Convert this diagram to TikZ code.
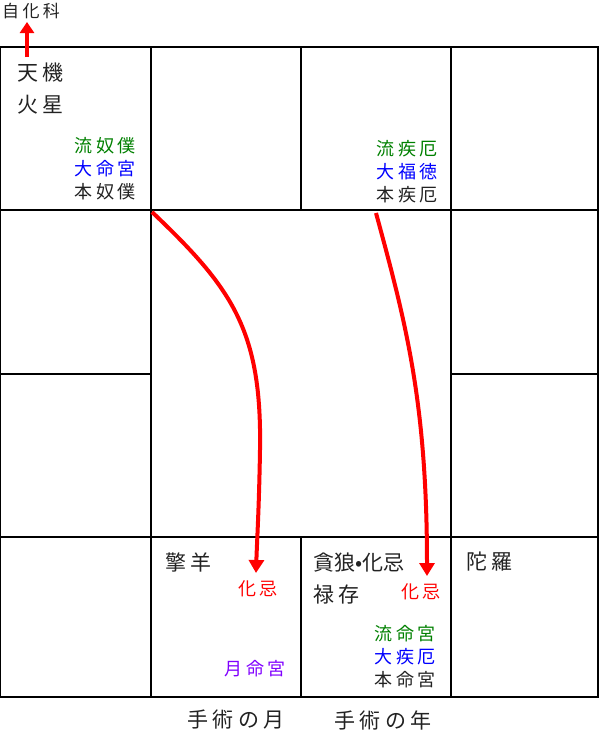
\documentclass[tikz,border=0pt]{standalone}
\usepackage{fontspec}
\setmainfont{Noto Sans CJK JP}
\newfontfamily\jp[LetterSpace=20]{Noto Sans CJK JP}
\newfontfamily\jpn{Noto Sans CJK JP}
\usepackage{xcolor}
\usetikzlibrary{arrows.meta}

\definecolor{ink}{RGB}{34,34,34}
\definecolor{ryu}{RGB}{0,128,0}
\definecolor{dai}{RGB}{0,0,255}
\definecolor{tsuki}{RGB}{128,0,255}

\begin{document}
\begin{tikzpicture}[x=1pt, y=-1pt,
    grid/.style={line width=2pt, black},
    big/.style={inner sep=0pt, text=ink, font=\jp\fontsize{21}{32}\selectfont},
    small/.style={inner sep=0pt, text=ink, font=\jp\fontsize{18}{23}\selectfont},
    kiarrow/.style={red, line width=4pt, -{Triangle[length=13pt,width=15pt]}}]
    \useasboundingbox (0,0) rectangle (600,731);

    % Grid
    \draw[grid] (0,47) rectangle (598,697);
    \draw[grid] (151,47) -- (151,697);
    \draw[grid] (451,47) -- (451,697);
    \draw[grid] (301,47) -- (301,210);
    \draw[grid] (301,537) -- (301,697);
    \draw[grid] (0,210) -- (598,210);
    \draw[grid] (0,537) -- (598,537);
    \draw[grid] (0,374) -- (151,374);
    \draw[grid] (451,374) -- (598,374);

    % Labels
    \node[small, font=\jp\fontsize{17}{20}\selectfont, anchor=north west] (jika) at (2,3) {自化科};
    \node[big, anchor=north west, align=left] (tenki) at (17,63) {天機\\火星};
    \node[small, anchor=north east, align=right] (doboku) at (136,137)
        {{\color{ryu}流奴僕}\\{\color{dai}大命宮}\\本奴僕};
    \node[small, anchor=north east, align=right] (shitsuyaku) at (438,140)
        {{\color{ryu}流疾厄}\\{\color{dai}大福徳}\\本疾厄};
    \node[big, anchor=north west] (keiyo) at (165,553) {擎羊};
    \node[small, anchor=north east, text=red] (kiA) at (278,580) {化忌};
    \node[small, anchor=north east, text=tsuki] (gatsumei) at (286,660) {月命宮};
    \node[big, anchor=north west, align=left] (donro) at (313,553) {{\jpn 貪狼•化忌}\\禄存};
    \node[small, anchor=north east, text=red] (kiB) at (441,583) {化忌};
    \node[small, anchor=north east, align=right] (meikyu) at (436,625)
        {{\color{ryu}流命宮}\\{\color{dai}大疾厄}\\本命宮};
    \node[big, anchor=north west] (dara) at (466,552) {陀羅};
    \node[big] (tsuki) at (236,720) {手術の月};
    \node[big] (toshi) at (383,720) {手術の年};

    % Arrows
    \coordinate (tenkiFrom) at (27,57);
    \coordinate (tenkiTo) at (27,22);
    \coordinate (dobokuFrom) at (152,212);
    \coordinate (kiAto) at (256,573);
    \coordinate (shitsuFrom) at (376,213);
    \coordinate (kiBto) at (427,576);
    \draw[kiarrow, -{Triangle[length=11pt,width=14pt]}] (tenkiFrom) -- (tenkiTo);
    \draw[kiarrow] (dobokuFrom) .. controls (232,288) and (262,330) .. (260,450)
        .. controls (259,510) and (257,540) .. (kiAto);
    \draw[kiarrow] (shitsuFrom) .. controls (405,320) and (427,400) .. (kiBto);
\end{tikzpicture}
\end{document}
